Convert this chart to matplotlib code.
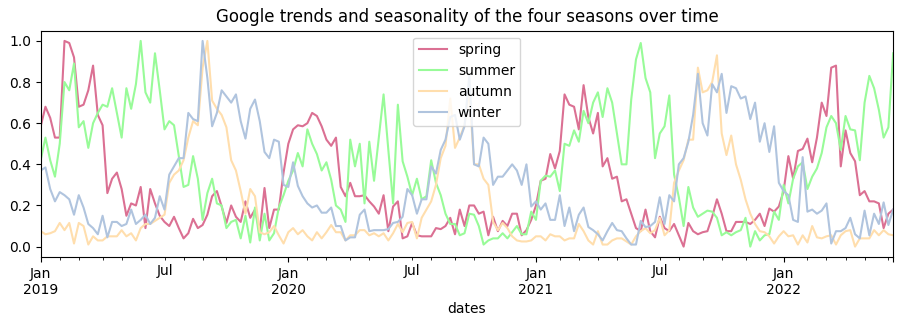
import matplotlib
matplotlib.use("Agg")
import matplotlib.pyplot as plt
import pandas as pd

start_date = "2019-01-06"
n_weeks = 180

spring = [0.585, 0.68, 0.626, 0.53, 0.53, 1.0, 0.99, 0.92, 0.68, 0.69, 0.76, 0.88, 0.64, 0.59, 0.26, 0.33, 0.36, 0.28, 0.15, 0.21, 0.2, 0.29, 0.09, 0.28, 0.21, 0.15,
          0.12, 0.10, 0.145, 0.09, 0.04, 0.065, 0.135, 0.09, 0.105, 0.155, 0.245, 0.27, 0.195, 0.115, 0.20, 0.145, 0.12, 0.22, 0.14, 0.18, 0.075, 0.285, 0.09, 0.18, 0.18,
          0.36, 0.50, 0.57, 0.59, 0.585, 0.60, 0.65, 0.635, 0.585, 0.52, 0.49, 0.53, 0.29, 0.245, 0.31, 0.245, 0.245, 0.25, 0.22, 0.195, 0.16, 0.25, 0.075, 0.195, 0.22, 0.04,
          0.05, 0.115, 0.055, 0.05, 0.05, 0.05, 0.09, 0.085, 0.10, 0.14, 0.06, 0.18, 0.10, 0.20, 0.20, 0.16, 0.17, 0.055, 0.145, 0.075, 0.125, 0.10, 0.16, 0.16, 0.055,
          0.08, 0.13, 0.20, 0.32, 0.33, 0.45, 0.38, 0.465, 0.74, 0.69, 0.68, 0.57, 0.785, 0.63, 0.55, 0.65, 0.39, 0.43, 0.33, 0.34, 0.22, 0.23, 0.16, 0.09, 0.075, 0.18,
          0.075, 0.045, 0.145, 0.09, 0.075, 0.11, 0.055, 0.0, 0.115, 0.075, 0.06, 0.07, 0.075, 0.145, 0.23, 0.16, 0.075, 0.075, 0.12, 0.12, 0.12, 0.11, 0.13, 0.16, 0.10, 0.185,
          0.17, 0.195, 0.27, 0.44, 0.33, 0.465, 0.475, 0.525, 0.41, 0.53, 0.70, 0.635, 0.87, 0.88, 0.39, 0.565, 0.455, 0.415, 0.25, 0.27, 0.22, 0.22, 0.21, 0.09, 0.16, 0.18]

summer = [0.42, 0.53, 0.42, 0.34, 0.50, 0.80, 0.76, 0.89, 0.58, 0.61, 0.48, 0.60, 0.65, 0.69, 0.68, 0.77, 0.65, 0.53, 0.77, 0.67, 0.79, 1.0, 0.75, 0.70, 0.94, 0.76,
          0.57, 0.61, 0.59, 0.44, 0.29, 0.30, 0.44, 0.33, 0.13, 0.26, 0.33, 0.21, 0.20, 0.09, 0.12, 0.13, 0.04, 0.15, 0.02, 0.19, 0.03, 0.16, 0.03, 0.065, 0.19,
          0.25, 0.32, 0.37, 0.455, 0.39, 0.57, 0.50, 0.45, 0.37, 0.41, 0.325, 0.20, 0.18, 0.12, 0.52, 0.39, 0.50, 0.21, 0.51, 0.32, 0.53, 0.74, 0.47, 0.21, 0.69, 0.415,
          0.34, 0.25, 0.33, 0.23, 0.245, 0.42, 0.31, 0.25, 0.16, 0.11, 0.11, 0.055, 0.065, 0.16, 0.155, 0.10, 0.01, 0.03, 0.04, 0.04, 0.065, 0.04, 0.07, 0.10, 0.06,
          0.06, 0.17, 0.13, 0.32, 0.345, 0.34, 0.37, 0.27, 0.50, 0.49, 0.565, 0.51, 0.66, 0.60, 0.70, 0.75, 0.63, 0.77, 0.70, 0.55, 0.40, 0.40, 0.715, 0.91, 0.99, 0.82,
          0.75, 0.43, 0.55, 0.585, 0.735, 0.35, 0.24, 0.10, 0.29, 0.19, 0.145, 0.16, 0.175, 0.17, 0.14, 0.055, 0.07, 0.055, 0.07, 0.08, 0.14, 0.0, 0.075, 0.03, 0.055, 0.06,
          0.17, 0.13, 0.30, 0.21, 0.33, 0.39, 0.41, 0.28, 0.34, 0.38, 0.455, 0.58, 0.635, 0.60, 0.47, 0.635, 0.57, 0.565, 0.42, 0.70, 0.83, 0.77, 0.665, 0.53, 0.58, 0.94]

autumn = [0.075, 0.06, 0.065, 0.075, 0.115, 0.08, 0.115, 0.015, 0.115, 0.10, 0.01, 0.05, 0.03, 0.03, 0.05, 0.05, 0.05, 0.08, 0.05, 0.065, 0.03, 0.09, 0.11, 0.11, 0.125, 0.14,
          0.155, 0.31, 0.35, 0.37, 0.42, 0.53, 0.61, 0.59, 0.87, 1.0, 0.71, 0.67, 0.64, 0.58, 0.42, 0.37, 0.27, 0.16, 0.28, 0.245, 0.07, 0.06, 0.07, 0.10, 0.055,
          0.015, 0.07, 0.09, 0.06, 0.08, 0.05, 0.03, 0.07, 0.04, 0.07, 0.105, 0.07, 0.07, 0.03, 0.055, 0.055, 0.08, 0.08, 0.055, 0.065, 0.05, 0.065, 0.03, 0.065, 0.11, 0.07,
          0.115, 0.12, 0.04, 0.14, 0.18, 0.22, 0.30, 0.43, 0.49, 0.72, 0.48, 0.53, 0.59, 0.76, 0.40, 0.40, 0.33, 0.30, 0.12, 0.08, 0.115, 0.09, 0.05, 0.03, 0.025,
          0.025, 0.03, 0.05, 0.05, 0.03, 0.06, 0.05, 0.05, 0.03, 0.04, 0.04, 0.11, 0.075, 0.03, 0.01, 0.075, 0.01, 0.01, 0.03, 0.04, 0.04, 0.025, 0.01, 0.05, 0.075, 0.09,
          0.065, 0.08, 0.14, 0.055, 0.08, 0.31, 0.37, 0.42, 0.52, 0.52, 0.87, 0.75, 0.76, 0.80, 0.93, 0.55, 0.445, 0.54, 0.40, 0.325, 0.23, 0.16, 0.11, 0.075, 0.07, 0.05,
          0.015, 0.05, 0.075, 0.05, 0.055, 0.01, 0.055, 0.02, 0.10, 0.045, 0.04, 0.05, 0.055, 0.01, 0.055, 0.075, 0.08, 0.0, 0.04, 0.04, 0.04, 0.08, 0.055, 0.08, 0.06, 0.055]

winter = [0.37, 0.385, 0.28, 0.22, 0.265, 0.25, 0.23, 0.155, 0.25, 0.19, 0.11, 0.09, 0.06, 0.15, 0.045, 0.12, 0.12, 0.10, 0.11, 0.18, 0.11, 0.13, 0.155, 0.11, 0.14, 0.245,
          0.18, 0.35, 0.39, 0.43, 0.43, 0.65, 0.62, 0.61, 1.0, 0.82, 0.585, 0.65, 0.76, 0.73, 0.70, 0.74, 0.61, 0.525, 0.67, 0.715, 0.61, 0.46, 0.43, 0.52, 0.51,
          0.30, 0.29, 0.41, 0.295, 0.245, 0.21, 0.19, 0.20, 0.165, 0.165, 0.19, 0.10, 0.10, 0.03, 0.045, 0.045, 0.155, 0.18, 0.075, 0.08, 0.08, 0.08, 0.085, 0.115, 0.12, 0.145,
          0.28, 0.25, 0.16, 0.23, 0.23, 0.39, 0.355, 0.47, 0.52, 0.63, 0.64, 0.52, 0.585, 0.83, 0.40, 0.39, 0.53, 0.50, 0.30, 0.34, 0.34, 0.37, 0.40, 0.37, 0.30,
          0.40, 0.195, 0.22, 0.18, 0.21, 0.13, 0.13, 0.25, 0.10, 0.19, 0.075, 0.155, 0.19, 0.095, 0.08, 0.06, 0.03, 0.075, 0.115, 0.08, 0.075, 0.04, 0.01, 0.01, 0.125, 0.095,
          0.10, 0.12, 0.24, 0.11, 0.25, 0.22, 0.40, 0.43, 0.51, 0.64, 0.84, 0.60, 0.54, 0.79, 0.75, 0.84, 0.65, 0.78, 0.77, 0.72, 0.73, 0.62, 0.70, 0.51, 0.60, 0.46,
          0.585, 0.31, 0.27, 0.25, 0.13, 0.12, 0.435, 0.17, 0.18, 0.16, 0.175, 0.21, 0.015, 0.075, 0.075, 0.09, 0.14, 0.06, 0.04, 0.175, 0.055, 0.16, 0.11, 0.215, 0.105, 0.18]

series_names = ["spring", "summer", "autumn", "winter"]
colors = ["palevioletred", "palegreen", "navajowhite", "lightsteelblue"]

dates = pd.date_range(start_date, periods=n_weeks, freq="W-SUN", name="dates")
df = pd.DataFrame({"spring": spring, "summer": summer, "autumn": autumn, "winter": winter}, index=dates)

fig, ax = plt.subplots(figsize=(9.04, 3.26), dpi=100)
df[series_names].plot(ax=ax, color=colors)
ax.set_title("Google trends and seasonality of the four seasons over time")
ax.legend(loc="upper center")
fig.subplots_adjust(left=0.045, right=0.988, top=0.906, bottom=0.212)
fig.savefig("out.png", dpi=100)
